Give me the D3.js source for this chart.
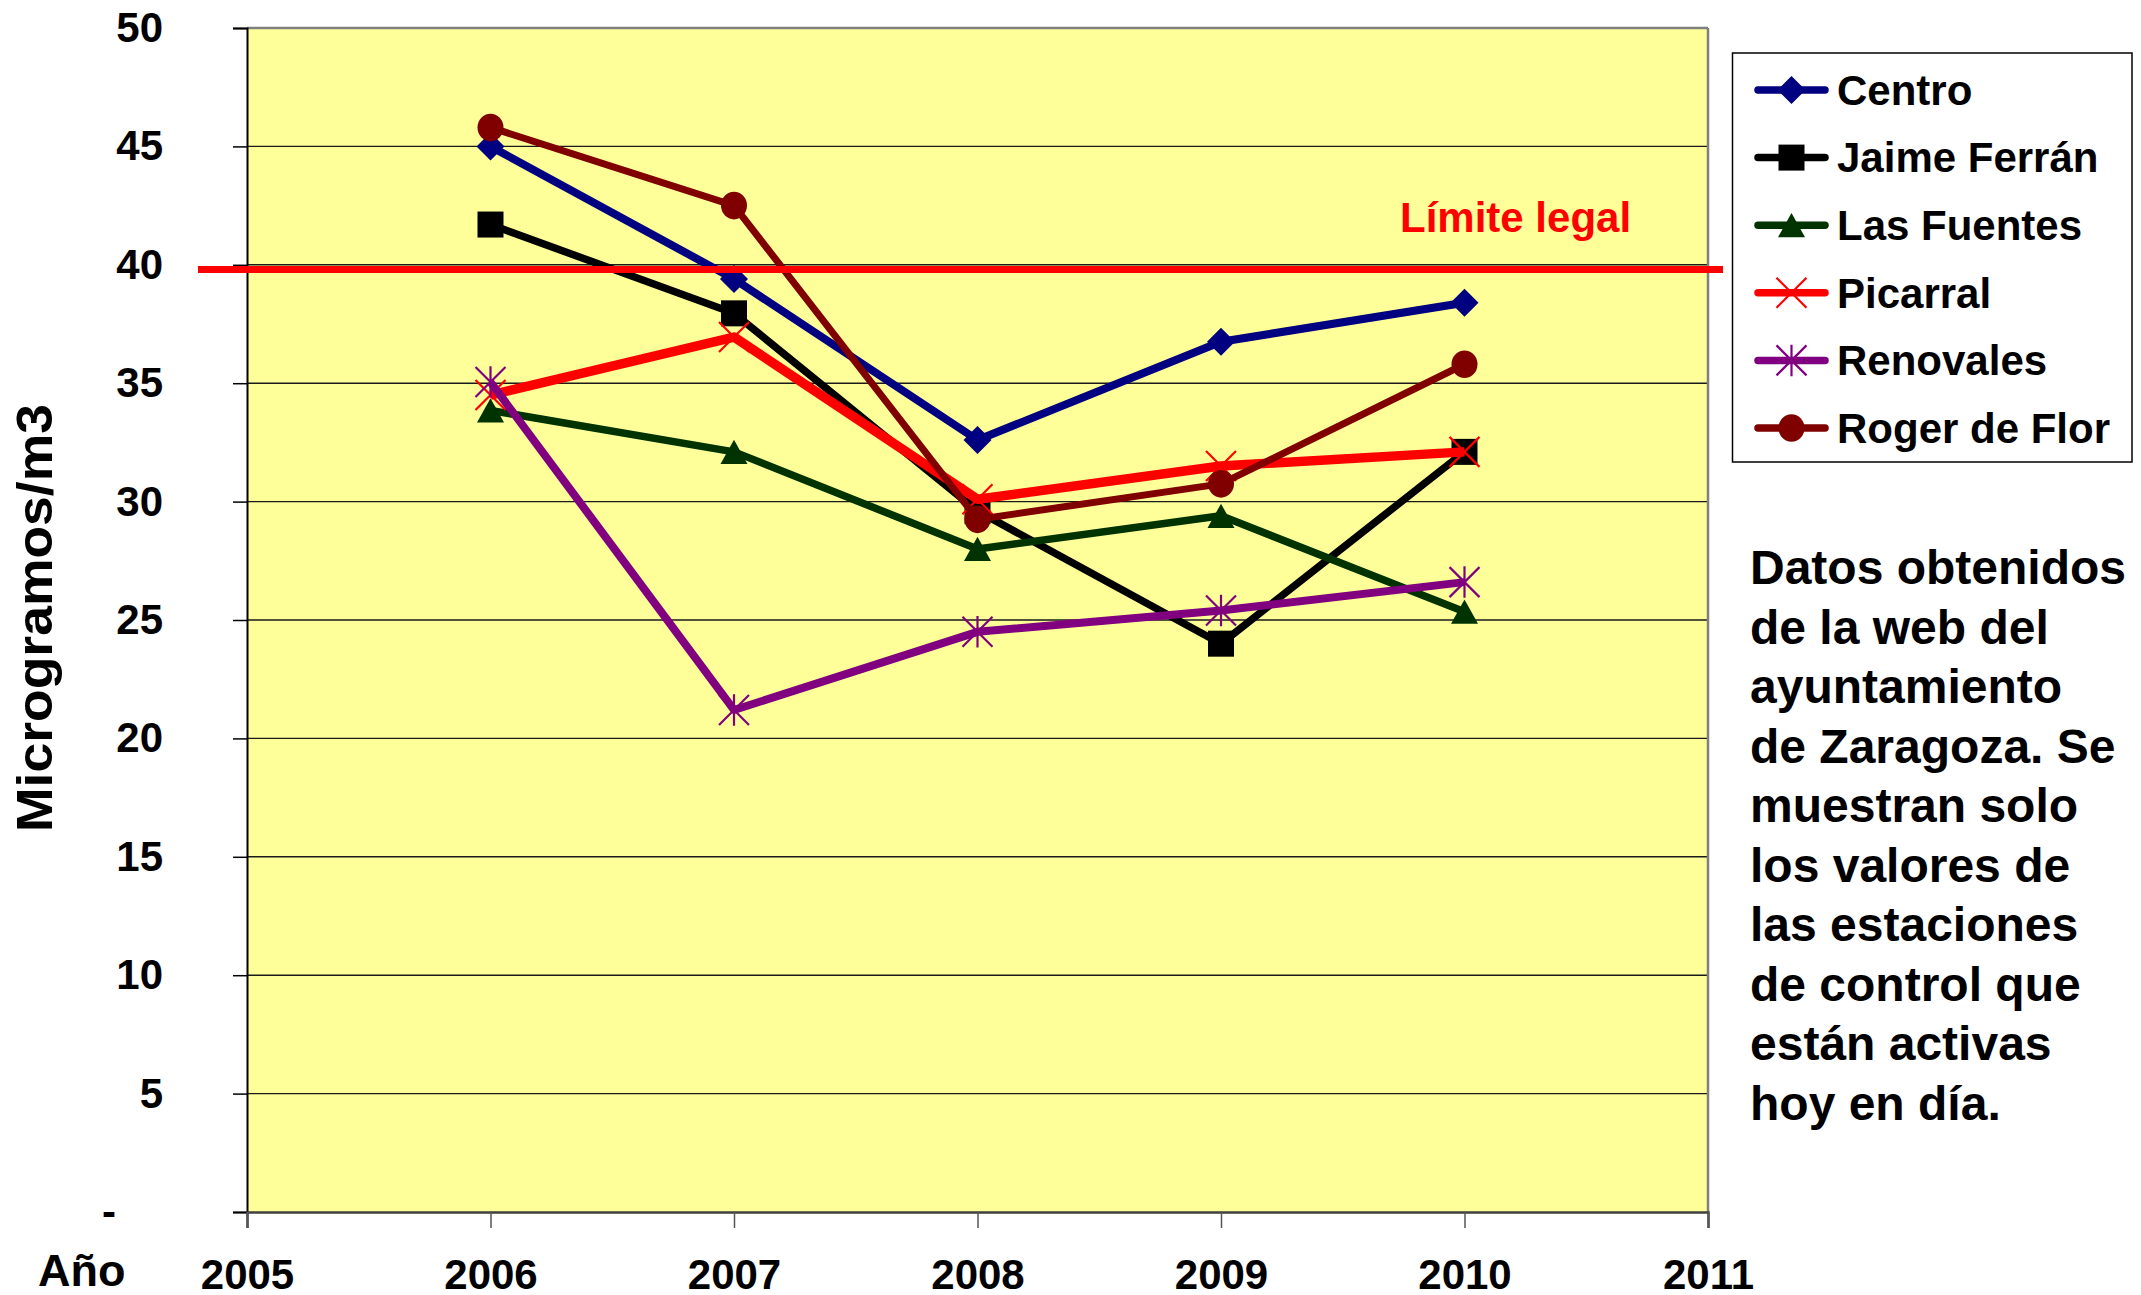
<!DOCTYPE html>
<html>
<head>
<meta charset="utf-8">
<script src="https://cdn.jsdelivr.net/npm/d3@7"></script>
<style>
  html, body { margin: 0; padding: 0; background: #fff; }
  svg { display: block; }
  text { font-family: "Liberation Sans", Arial, Helvetica, sans-serif; font-weight: bold; }
</style>
</head>
<body>
<svg id="chart" width="2141" height="1295"></svg>
<script>
// ---- data ----
const years = [2006, 2007, 2008, 2009, 2010];
const xTicks = [2005, 2006, 2007, 2008, 2009, 2010, 2011];
const yTicks = [0, 5, 10, 15, 20, 25, 30, 35, 40, 45, 50];
const seriesNames = ["Centro", "Jaime Ferrán", "Las Fuentes", "Picarral", "Renovales", "Roger de Flor"];
const centro     = [45.0, 39.4, 32.6, 36.75, 38.4];
const jaimeFerran = [41.7, 37.95, 29.6, 24.0, 32.1];
const lasFuentes = [33.85, 32.1, 28.0, 29.4, 25.35];
const picarral   = [34.5, 36.95, 30.1, 31.5, 32.1];
const renovales  = [35.05, 21.2, 24.5, 25.4, 26.6];
const rogerDeFlor = [45.8, 42.5, 29.25, 30.75, 35.8];
const limiteLegal = 39.8;
const notaLines = ["Datos obtenidos", "de la web del", "ayuntamiento", "de Zaragoza. Se",
  "muestran solo", "los valores de", "las estaciones", "de control que",
  "están activas", "hoy en día."];

const seriesValues = [centro, jaimeFerran, lasFuentes, picarral, renovales, rogerDeFlor];
const styles = [
  {color: "#000080", width: 8,   marker: "diamond"},
  {color: "#000000", width: 7.5, marker: "square"},
  {color: "#003300", width: 7.5, marker: "triangle"},
  {color: "#FF0000", width: 9.5, marker: "x"},
  {color: "#800080", width: 8,   marker: "star"},
  {color: "#800000", width: 7,   marker: "circle"}
];

const svg = d3.select("#chart");
const L = 247, R = 1708, T = 28, B = 1212;
const x = d3.scaleLinear().domain([2005, 2011]).range([L, R]);
const y = d3.scaleLinear().domain([0, 50]).range([B, T]);

// plot background
svg.append("rect").attr("x", L).attr("y", T).attr("width", R - L).attr("height", B - T)
  .attr("fill", "#FFFF99");

// gridlines
svg.append("g").selectAll("line").data(yTicks.filter(d => d > 0 && d < 50)).join("line")
  .attr("x1", L).attr("x2", R).attr("y1", d => y(d)).attr("y2", d => y(d))
  .attr("stroke", "#1a1a1a").attr("stroke-width", 1.4);

// border top/right
svg.append("line").attr("x1", L).attr("x2", R).attr("y1", T).attr("y2", T)
  .attr("stroke", "#808080").attr("stroke-width", 2.5);
svg.append("line").attr("x1", R).attr("x2", R).attr("y1", T).attr("y2", B)
  .attr("stroke", "#808080").attr("stroke-width", 2.5);

// y axis
const yAxis = svg.append("g").attr("transform", `translate(${L},0)`)
  .call(d3.axisLeft(y).tickValues(yTicks).tickSize(14).tickPadding(70)
    .tickFormat(d => d === 0 ? "-" : d));
yAxis.select(".domain").attr("stroke", "#000").attr("stroke-width", 2);
yAxis.selectAll(".tick line").attr("stroke", "#000").attr("stroke-width", 1.5);
yAxis.selectAll(".tick text").attr("font-size", 42).attr("fill", "#000")
  .attr("font-family", "Liberation Sans, Arial, sans-serif").attr("font-weight", "bold");
yAxis.selectAll(".tick").filter(d => d === 0).select("text").attr("x", -131);
yAxis.attr("font-family", null).attr("font-size", null);

// x axis
const xAxis = svg.append("g").attr("transform", `translate(0,${B})`)
  .call(d3.axisBottom(x).tickValues(xTicks).tickSize(16).tickFormat(d3.format("d")));
xAxis.select(".domain").attr("stroke", "#404040").attr("stroke-width", 2.5);
xAxis.selectAll(".tick line").attr("stroke", "#555").attr("stroke-width", 1.5);
xAxis.selectAll(".tick text").attr("font-size", 42).attr("fill", "#000")
  .attr("font-family", "Liberation Sans, Arial, sans-serif").attr("font-weight", "bold")
  .attr("y", 77).attr("dy", 0);
xAxis.attr("font-family", null).attr("font-size", null);

// axis titles
svg.append("text").attr("x", 38).attr("y", 1286).attr("font-size", 45).attr("fill", "#000").text("Año");
svg.append("text").attr("transform", "translate(52,618) rotate(-90)").attr("text-anchor", "middle")
  .attr("font-size", 50).attr("fill", "#000").attr("textLength", 428).attr("lengthAdjust", "spacingAndGlyphs")
  .text("Microgramos/m3");

// marker drawing
function drawMarker(g, type, color, size) {
  const s = size;
  if (type === "diamond") {
    g.append("path").attr("d", `M0,${-s/2}L${s/2},0L0,${s/2}L${-s/2},0Z`).attr("fill", color);
  } else if (type === "square") {
    g.append("rect").attr("x", -s/2).attr("y", -s/2).attr("width", s).attr("height", s).attr("fill", color);
  } else if (type === "triangle") {
    const h = s * 0.9;
    g.append("path").attr("d", `M0,${-h/2}L${s/2},${h/2}L${-s/2},${h/2}Z`).attr("fill", color);
  } else if (type === "x") {
    const a = s / 2;
    g.append("path").attr("d", `M${-a},${-a}L${a},${a}M${a},${-a}L${-a},${a}`)
      .attr("stroke", color).attr("stroke-width", 2.2).attr("fill", "none");
  } else if (type === "star") {
    const a = s / 2;
    g.append("path").attr("d", `M${-a},${-a}L${a},${a}M${a},${-a}L${-a},${a}M0,${-a*1.05}L0,${a*1.05}`)
      .attr("stroke", color).attr("stroke-width", 2.2).attr("fill", "none");
  } else if (type === "circle") {
    g.append("ellipse").attr("rx", s/2).attr("ry", s/2 + 0.8).attr("fill", color);
  }
}
const markerSize = {diamond: 28, square: 26, triangle: 27, x: 30, star: 30, circle: 26};

// series
const line = d3.line().x(d => x(d[0])).y(d => y(d[1]));
seriesValues.forEach((vals, i) => {
  const st = styles[i];
  const pts = years.map((yr, j) => [yr, vals[j]]);
  const g = svg.append("g");
  g.append("path").attr("d", line(pts)).attr("fill", "none")
    .attr("stroke", st.color).attr("stroke-width", st.width).attr("stroke-linejoin", "round");
  pts.forEach(p => {
    const mg = g.append("g").attr("transform", `translate(${x(p[0])},${y(p[1])})`);
    drawMarker(mg, st.marker, st.color, markerSize[st.marker]);
  });
});

// legal limit line
svg.append("line").attr("x1", 198).attr("x2", 1723)
  .attr("y1", y(limiteLegal)).attr("y2", y(limiteLegal))
  .attr("stroke", "#FF0000").attr("stroke-width", 7);
svg.append("text").attr("x", 1400).attr("y", 232).attr("font-size", 42).attr("fill", "#FF0000")
  .text("Límite legal");

// legend
const lg = svg.append("g");
lg.append("rect").attr("x", 1732.5).attr("y", 53).attr("width", 399.5).attr("height", 409)
  .attr("fill", "#fff").attr("stroke", "#000").attr("stroke-width", 1.5);
seriesNames.forEach((name, i) => {
  const cy = 90 + i * 67.6;
  const st = styles[i];
  lg.append("line").attr("x1", 1758).attr("x2", 1825).attr("y1", cy).attr("y2", cy)
    .attr("stroke", st.color).attr("stroke-width", 7.5).attr("stroke-linecap", "round");
  const mg = lg.append("g").attr("transform", `translate(1791.5,${cy})`);
  drawMarker(mg, st.marker, st.color, markerSize[st.marker]);
  lg.append("text").attr("x", 1837).attr("y", cy).attr("dy", "0.35em")
    .attr("font-size", 42).attr("fill", "#000").text(name);
});

// note text
const nt = svg.append("text").attr("font-size", 48).attr("fill", "#000");
notaLines.forEach((t, i) => {
  nt.append("tspan").attr("x", 1750).attr("y", 584 + i * 59.5).text(t);
});
</script>
</body>
</html>
